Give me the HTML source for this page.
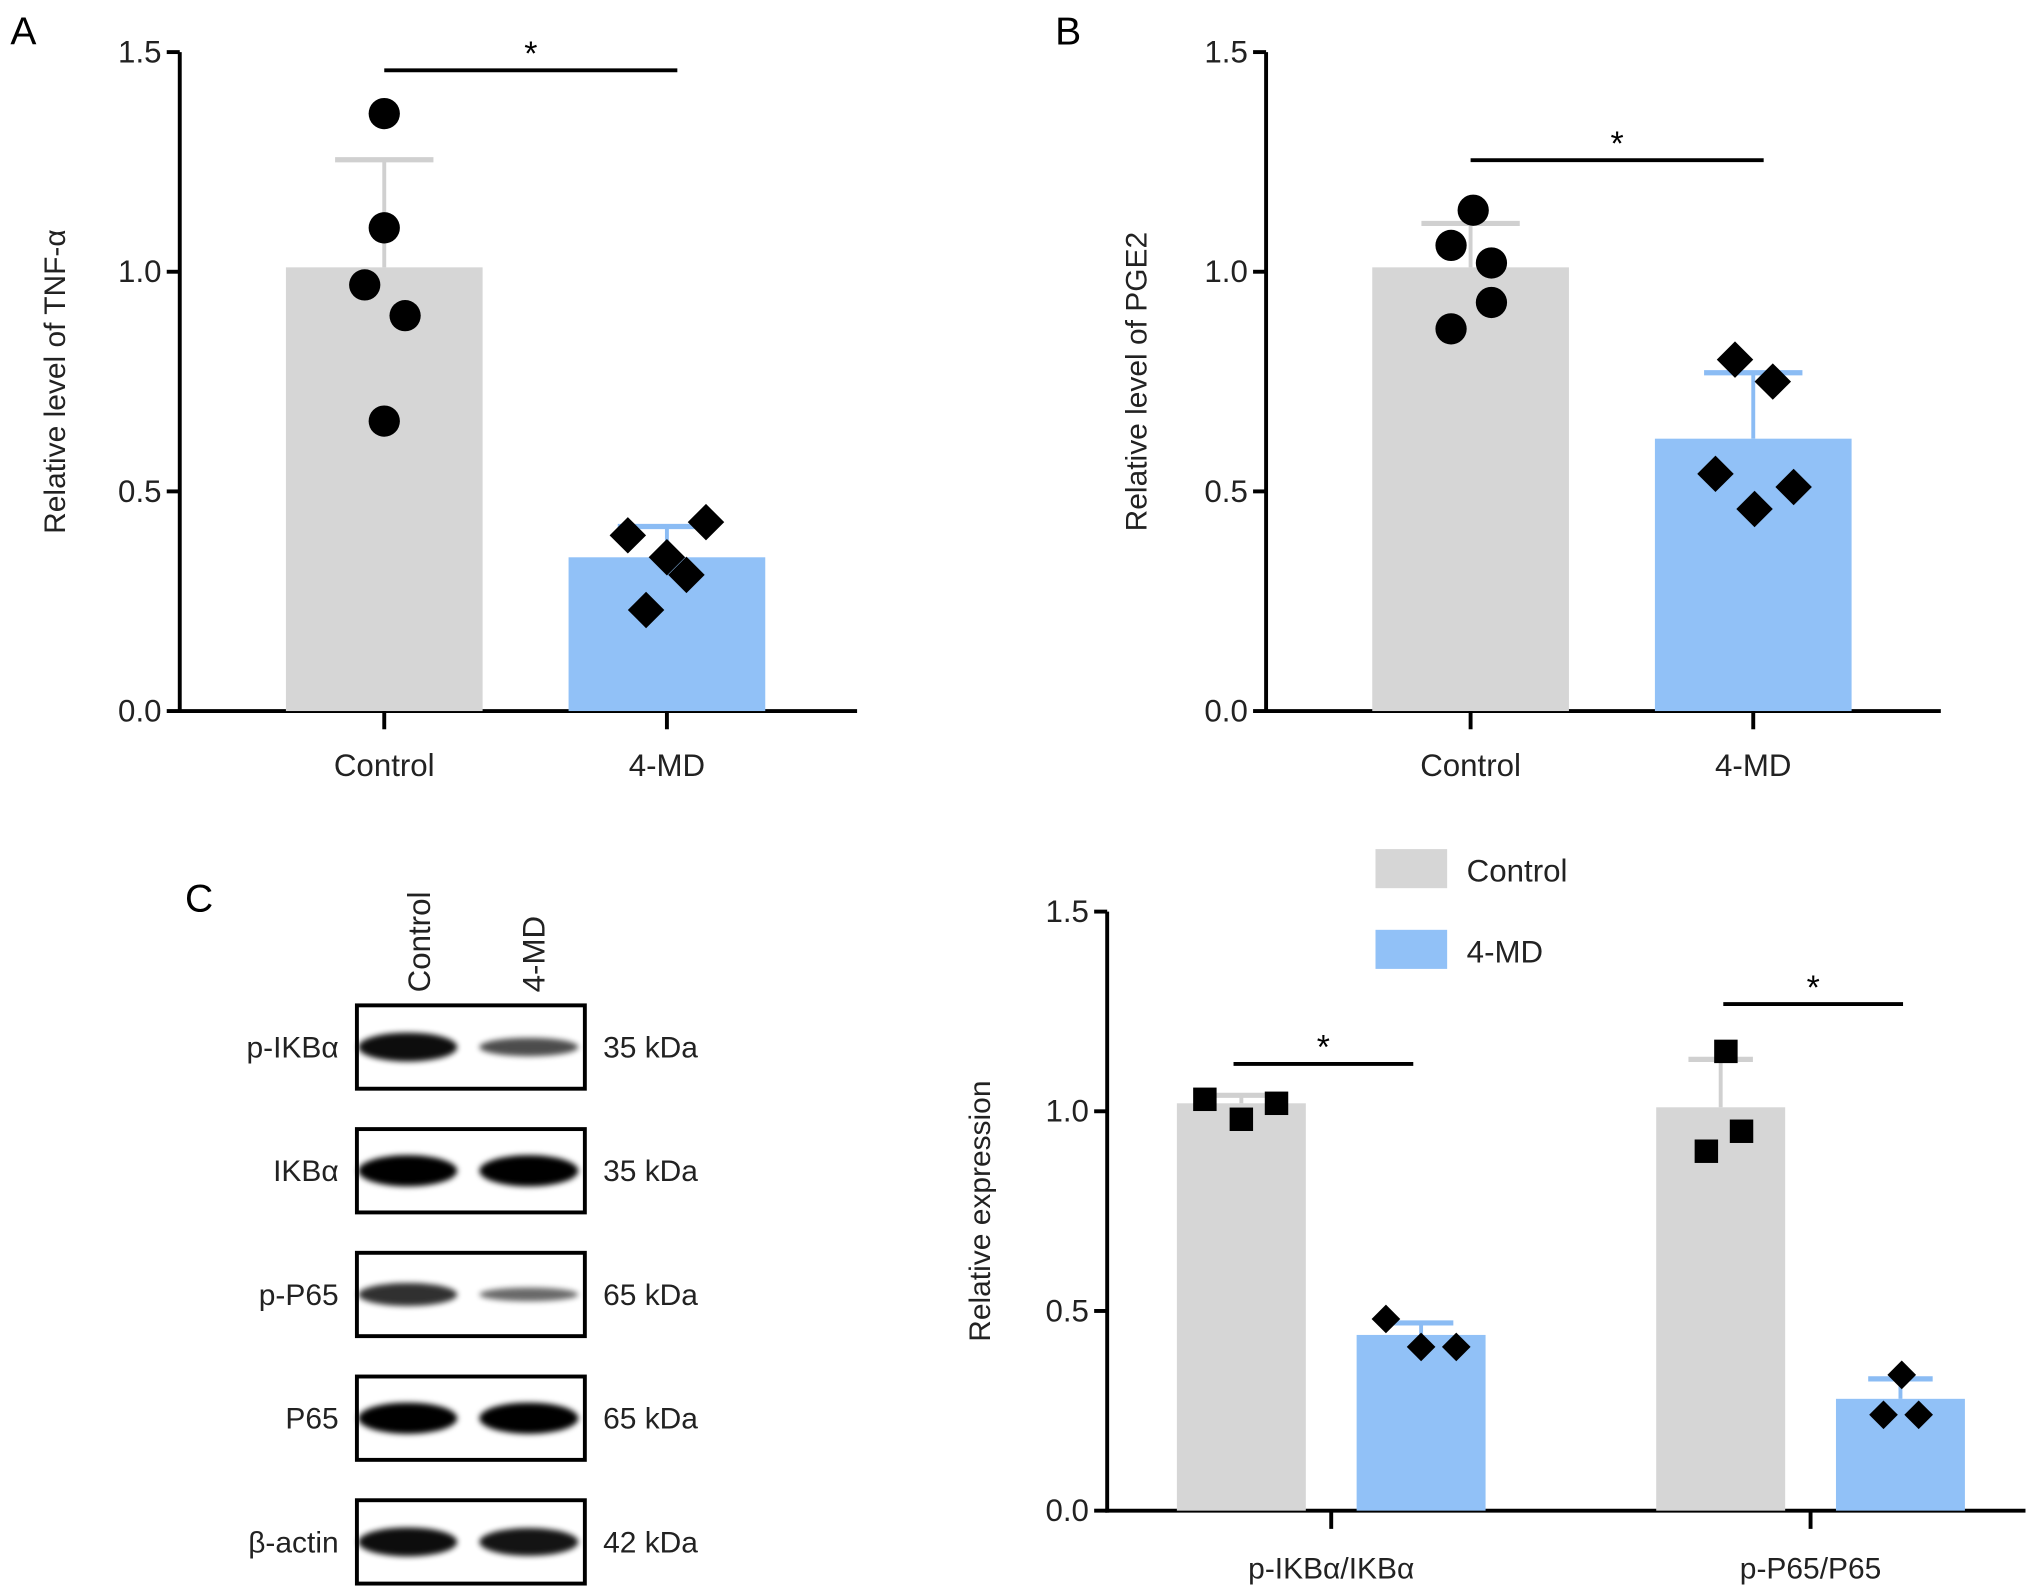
<!DOCTYPE html>
<html><head><meta charset="utf-8"><style>
html,body{margin:0;padding:0;background:#fff;}
svg{display:block;font-family:"Liberation Sans",Arial,sans-serif;}
</style></head><body>
<svg id="fig" width="2032" height="1594" viewBox="0 0 1560 1224" preserveAspectRatio="none" xmlns="http://www.w3.org/2000/svg">
<defs><filter id="blur" x="-20%" y="-50%" width="140%" height="200%"><feGaussianBlur stdDeviation="2.2"/></filter></defs>
<g id="root"></g>
</svg>
<script>
// Panel A data
const aCats=["Control","4-MD"];
const aMeans=[1.01,0.35];
const aErr=[1.255,0.42];
const aPts0=[1.36,1.10,0.97,0.90,0.66];
const aPts1=[0.40,0.43,0.35,0.31,0.23];
// Panel B data
const bCats=["Control","4-MD"];
const bMeans=[1.01,0.62];
const bErr=[1.11,0.77];
const bPts0=[1.14,1.06,1.02,0.93,0.87];
const bPts1=[0.80,0.75,0.54,0.51,0.46];
// Panel D data
const dGroups=["p-IKBα/IKBα","p-P65/P65"];
const dCtrl=[1.02,1.01];
const dCtrlErr=[1.04,1.13];
const dMD=[0.44,0.28];
const dMDErr=[0.47,0.33];
const dCtrlPts=[[1.03,0.98,1.02],[1.15,0.90,0.95]];
const dMDPts=[[0.48,0.41,0.41],[0.34,0.24,0.24]];
const yTicks=[0,0.5,1.0,1.5];
const yTickLabels=["0.0","0.5","1.0","1.5"];
// Blot
const blotRows=["p-IKBα","IKBα","p-P65","P65","β-actin"];
const blotKDa=["35 kDa","35 kDa","65 kDa","65 kDa","42 kDa"];
const blotCtrl=[0.9,1,0.65,1,0.9];
const blotMD=[0.45,1,0.25,1,0.85];

const NS="http://www.w3.org/2000/svg";
const root=document.getElementById('root');
function el(tag,attrs,parent,text){const e=document.createElementNS(NS,tag);for(const k in attrs)e.setAttribute(k,attrs[k]);if(text!==undefined)e.textContent=text;(parent||root).appendChild(e);return e;}
const GRAY="#d6d6d6",BLUE="#91c1f7",EG="#d0d0d0",EB="#8bbcf4";

function axes(g,x0,y0,yTop,xEnd,ylabel,ylx,fs){
  const ys=v=>y0-(y0-yTop)*v/1.5;
  let ax=el('line',{x1:x0,y1:yTop,x2:x0,y2:y0+1.5,stroke:'#000','stroke-width':3},g);
  
  let bx=el('line',{x1:x0-1.5,y1:y0,x2:xEnd,y2:y0,stroke:'#000','stroke-width':3},g);
  
  yTicks.forEach((t,i)=>{
    el('line',{x1:x0-10,y1:ys(t),x2:x0,y2:ys(t),stroke:'#000','stroke-width':3},g);
    let tl=el('text',{x:x0-14,y:ys(t)+8,'text-anchor':'end','font-size':fs,fill:'#222'},g,yTickLabels[i]);
    
  });
  const cy=(y0+yTop)/2;
  let yl=el('text',{x:ylx,y:cy,'text-anchor':'middle','font-size':fs-1,fill:'#222',transform:`rotate(-90 ${ylx} ${cy})`},g,ylabel);
  
  return ys;
}
function circle(g,x,y){let c=el('circle',{cx:x,cy:y,r:12,fill:'#000'},g);}
function diamond(g,x,y,s){let d=el('path',{d:`M${x} ${y-s}L${x+s} ${y}L${x} ${y+s}L${x-s} ${y}Z`,fill:'#000'},g);}
function square(g,x,y){let d=el('rect',{x:x-9,y:y-9,width:18,height:18,fill:'#000'},g);}
function bar(g,cx,w,v,err,ys,fill,ecol,name){
  let r=el('rect',{x:cx-w/2,y:ys(v),width:w,height:ys(0)-ys(v),fill:fill},g);
  
  el('line',{x1:cx,y1:ys(v),x2:cx,y2:ys(err),stroke:ecol,'stroke-width':3},g);
  el('line',{x1:cx-w*0.25,y1:ys(err),x2:cx+w*0.25,y2:ys(err),stroke:ecol,'stroke-width':4},g);
}
function sig(g,x1,x2,y){el('line',{x1:x1,y1:y,x2:x2,y2:y,stroke:'#000','stroke-width':3},g);let s=el('text',{x:(x1+x2)/2,y:y-4,'text-anchor':'middle','font-size':26,fill:'#000'},g,'*');}

function simplePanel(name,letter,lx,x0,xEnd,cats,means,errs,p0,p1,off0,off1,sigY,ylabel,ylx){
  const g=el('g',{});
  let L=el('text',{x:lx,y:34,'font-size':30,fill:'#000'},g,letter);
  const ys=axes(g,x0,546,40,xEnd,ylabel,ylx,24);
  const cx=[x0+157,x0+374];
  bar(g,cx[0],151,means[0],errs[0],ys,GRAY,EG,'bar-control');
  bar(g,cx[1],151,means[1],errs[1],ys,BLUE,EB,'bar-4md');
  cats.forEach((c,i)=>{el('line',{x1:cx[i],y1:546,x2:cx[i],y2:560,stroke:'#000','stroke-width':3},g);
    let t=el('text',{x:cx[i],y:596,'text-anchor':'middle','font-size':24,fill:'#222'},g,c);});
  p0.forEach((v,i)=>circle(g,cx[0]+off0[i],ys(v)));
  p1.forEach((v,i)=>diamond(g,cx[1]+off1[i],ys(v),14));
  sig(g,cx[0],cx[1]+8,sigY);
}
simplePanel('panel-a-chart','A',8,138,658,aCats,aMeans,aErr,aPts0,aPts1,[0,0,-15,16,0],[-30,30,0,15,-16],54,'Relative level of TNF-α',50);
simplePanel('panel-b-chart','B',810,972,1490,bCats,bMeans,bErr,bPts0,bPts1,[2,-15,16,16,-15],[-14,15,-29,31,1],123,'Relative level of PGE2',880);

// Panel D
(function(){
  const g=el('g',{});
  const ys=axes(g,850,1160,700,1555,'Relative expression',760,24);
  const gc=[1022,1390];
  dGroups.forEach((name,i)=>{
    bar(g,gc[i]-69,99,dCtrl[i],dCtrlErr[i],ys,GRAY,EG,'bar-control');
    bar(g,gc[i]+69,99,dMD[i],dMDErr[i],ys,BLUE,EB,'bar-4md');
    el('line',{x1:gc[i],y1:1160,x2:gc[i],y2:1174,stroke:'#000','stroke-width':3},g);
    let t=el('text',{x:gc[i],y:1212,'text-anchor':'middle','font-size':23,fill:'#222'},g,name);
  });
  const co=[[-28,0,27],[-15,-30,-3]],mo=[[-27,0,27],[1,-13,14]];
  dCtrlPts.forEach((arr,i)=>arr.forEach((v,j)=>square(g,gc[i]-69+co[i][j]+(i==1?19:0),ys(v))));
  dMDPts.forEach((arr,i)=>arr.forEach((v,j)=>diamond(g,gc[i]+69+mo[i][j]+(i==1?0:0),ys(v),11)));
  sig(g,947,1085,817);sig(g,1323,1461,771);
  let l1=el('rect',{x:1056,y:652,width:55,height:30,fill:GRAY},g);
  let t1=el('text',{x:1126,y:677,'font-size':24,fill:'#222'},g,'Control');
  let l2=el('rect',{x:1056,y:714,width:55,height:30,fill:BLUE},g);
  let t2=el('text',{x:1126,y:739,'font-size':24,fill:'#222'},g,'4-MD');
})();

// Panel C blot
(function(){
  const g=el('g',{});
  let L=el('text',{x:142,y:700,'font-size':30,fill:'#000'},g,'C');
  let c1=el('text',{x:0,y:0,'font-size':24,fill:'#222',transform:'translate(330 762) rotate(-90)'},g,'Control');
  let c2=el('text',{x:0,y:0,'font-size':24,fill:'#222',transform:'translate(418 762) rotate(-90)'},g,'4-MD');
  blotRows.forEach((r,i)=>{
    const y=772+i*95;
    let box=el('rect',{x:274,y:y,width:175,height:64,fill:'#fff',stroke:'#000','stroke-width':3},g);
    
    [[313,blotCtrl[i]],[406,blotMD[i]]].forEach(([cx,s])=>{
      const h=6+18*s;const op=0.45+0.55*s;
      el('ellipse',{cx:cx,cy:y+32,rx:38,ry:h/2,fill:'#000',opacity:op,filter:'url(#blur)'},g);
    });
    let t=el('text',{x:260,y:y+40,'text-anchor':'end','font-size':23,fill:'#222'},g,r);
    let k=el('text',{x:463,y:y+40,'font-size':23,fill:'#222'},g,blotKDa[i]);
  });
})();
</script>
</body></html>
